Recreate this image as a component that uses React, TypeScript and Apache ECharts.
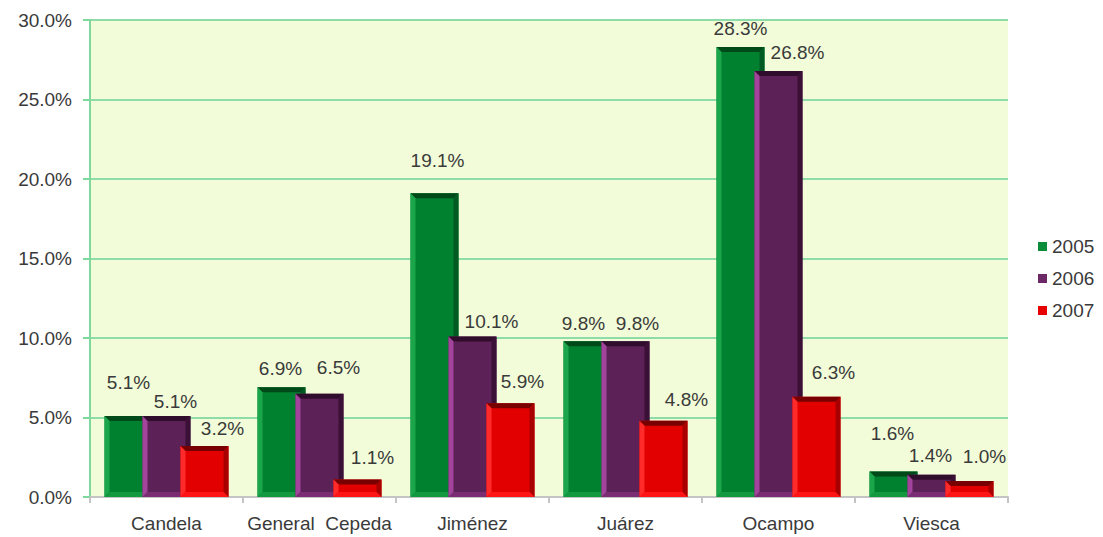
import React, { useEffect, useRef } from "react";
import * as echarts from "echarts";

const categories = ["Candela", "General  Cepeda", "Jiménez", "Juárez", "Ocampo", "Viesca"];
const years = ["2005", "2006", "2007"];
const values2005 = [5.1, 6.9, 19.1, 9.8, 28.3, 1.6];
const values2006 = [5.1, 6.5, 10.1, 9.8, 26.8, 1.4];
const values2007 = [3.2, 1.1, 5.9, 4.8, 6.3, 1.0];
const yTicks = { min: 0, max: 30, interval: 5 };

// label placement tweaks (pixels, layout only)
const labelDx = [
  [0, -1, 3, -4, 0, -1],
  [9, 19, 19, 12, 19, -1],
  [18, 15, 12, 23, 17, 15],
];
const labelDy = [
  [-33, -19, -33, -18, -19, -38],
  [-14, -26, -15, -18, -18, -19],
  [-18, -22, -22, -21, -24, -25],
];

const palette = [
  { main: "#00812f", top: "#004a19", left: "#1ca64c", right: "#005a22", bottom: "#13993f", legend: "#0a8c38" },
  { main: "#5c2157", top: "#300d2d", left: "#a2449b", right: "#3b1037", bottom: "#7b2d74", legend: "#6b2766" },
  { main: "#e20000", top: "#780000", left: "#ff2a2a", right: "#a80000", bottom: "#ff1515", legend: "#e60000" },
];

const BAR_W = 48;
const STEP = 38;
const BEVEL = 5;

function makeSeries(idx: number, values: number[]) {
  const c = palette[idx];
  return {
    name: years[idx],
    type: "custom",
    itemStyle: { color: c.legend },
    encode: { x: 0, y: 1 },
    data: values.map((v, i) => [i, v]),
    renderItem: (params: any, api: any) => {
      const ci = api.value(0);
      const v = api.value(1);
      const base = api.coord([ci, 0]);
      const top = api.coord([ci, v]);
      const cx = base[0] + (idx - 1) * STEP;
      const x0 = cx - BAR_W / 2;
      const x1 = cx + BAR_W / 2;
      const y0 = top[1];
      const y1 = base[1];
      const b = Math.min(BEVEL, (y1 - y0) / 2);
      return {
        type: "group",
        children: [
          { type: "rect", shape: { x: x0, y: y0, width: BAR_W, height: y1 - y0 }, style: { fill: c.main } },
          { type: "polygon", shape: { points: [[x0, y0], [x1, y0], [x1 - b, y0 + b], [x0 + b, y0 + b]] }, style: { fill: c.top } },
          { type: "polygon", shape: { points: [[x0, y0], [x0 + b, y0 + b], [x0 + b, y1 - b], [x0, y1]] }, style: { fill: c.left } },
          { type: "polygon", shape: { points: [[x1, y0], [x1, y1], [x1 - b, y1 - b], [x1 - b, y0 + b]] }, style: { fill: c.right } },
          { type: "polygon", shape: { points: [[x0, y1], [x0 + b, y1 - b], [x1 - b, y1 - b], [x1, y1]] }, style: { fill: c.bottom } },
          {
            type: "text",
            z2: 10,
            style: {
              text: v.toFixed(1) + "%",
              x: cx + labelDx[idx][ci],
              y: y0 + labelDy[idx][ci],
              align: "center",
              verticalAlign: "middle",
              fill: "#3a3a3a",
              fontSize: 19,
              fontFamily: "Liberation Sans",
            },
          },
        ],
      };
    },
  };
}

export default function App() {
  const ref = useRef<HTMLDivElement>(null);
  useEffect(() => {
    if (!ref.current) return;
    const chart = echarts.init(ref.current, undefined, { renderer: "svg" });
    chart.setOption({
      animation: false,
      backgroundColor: "#ffffff",
      grid: {
        left: 90,
        right: 95,
        top: 20,
        bottom: 40,
        show: true,
        backgroundColor: "#f2fcd8",
        borderWidth: 0,
      },
      legend: {
        orient: "vertical",
        left: 1033,
        top: 232,
        itemWidth: 9,
        itemHeight: 9,
        itemGap: 13,
        icon: "rect",
        data: years,
        textStyle: { fontSize: 19, color: "#3a3a3a", fontFamily: "Liberation Sans" },
      },
      xAxis: {
        type: "category",
        data: categories,
        axisLine: { lineStyle: { color: "#c4c4c4", width: 2 } },
        axisTick: { show: true, length: 6, lineStyle: { color: "#c4c4c4", width: 2 } },
        axisLabel: { interval: 0, fontSize: 19, color: "#3a3a3a", margin: 17, fontFamily: "Liberation Sans" },
        splitLine: { show: false },
      },
      yAxis: {
        type: "value",
        min: yTicks.min,
        max: yTicks.max,
        interval: yTicks.interval,
        axisLine: { show: true, lineStyle: { color: "#7fd89c", width: 2 } },
        axisTick: { show: true, length: 7, lineStyle: { color: "#7fd89c", width: 2 } },
        axisLabel: {
          fontSize: 19,
          color: "#3a3a3a",
          margin: 18,
          fontFamily: "Liberation Sans",
          formatter: (v: number) => v.toFixed(1) + "%",
        },
        splitLine: { show: true, lineStyle: { color: "#8edda8", width: 2 } },
      },
      series: [makeSeries(0, values2005), makeSeries(1, values2006), makeSeries(2, values2007)],
    });
    return () => chart.dispose();
  }, []);
  return <div ref={ref} style={{ position: "absolute", left: 0, top: 0, width: 1103, height: 537 }} />;
}
